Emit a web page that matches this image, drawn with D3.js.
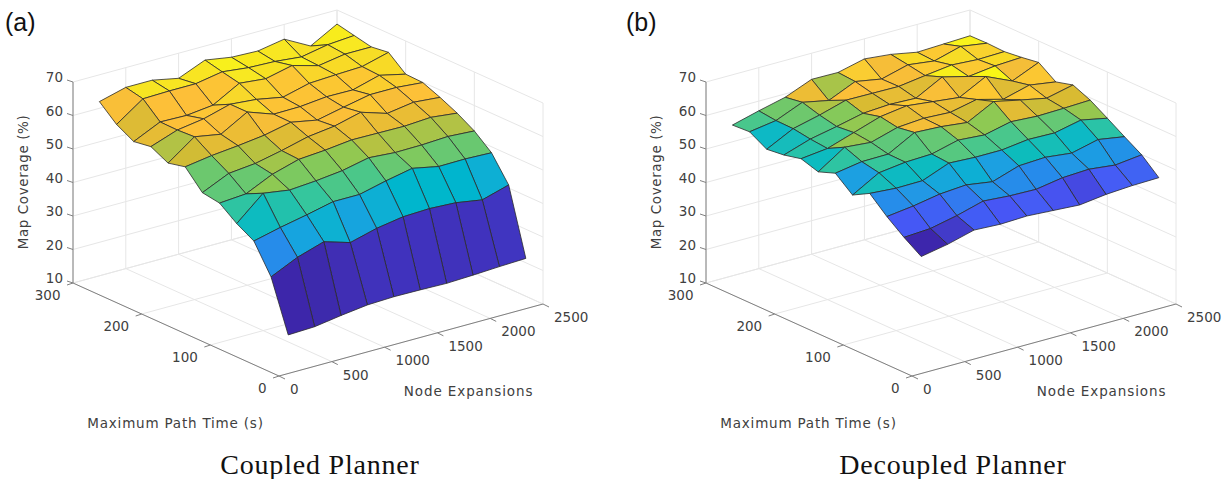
<!DOCTYPE html>
<html><head><meta charset="utf-8">
<script src="https://cdn.jsdelivr.net/npm/d3@7"></script>
<style>html,body{margin:0;padding:0;background:#fff}svg{display:block}</style>
</head><body><svg id="c" width="1229" height="479"></svg>
<script>
const nodeExpansions=[250,500,750,1000,1250,1500,1750,2000,2250,2500];
const pathTimes=[25,50,75,100,125,150,175,200,225,250,275,300];
const xTicks=[0,500,1000,1500,2000,2500];
const yTicks=[0,100,200,300];
const zTicks=[10,20,30,40,50,60,70];
// rows: path time 25..300; columns: node expansions 250..2500
const coupledCoverage=[
[17.8,18.1,19.3,20.3,20.6,20.5,20.3,20.6,21.0,21.3],
[32.8,36.5,39.0,36.6,38.7,40.0,40.3,39.9,38.6,40.9],
[41.2,43.1,44.7,46.5,46.5,48.4,50.0,48.4,48.5,48.2],
[44.1,51.0,49.8,50.4,51.3,53.0,52.4,52.5,52.9,52.4],
[47.9,48.5,52.2,54.5,55.1,56.0,55.9,55.8,56.3,55.4],
[48.7,52.3,53.1,54.8,56.8,57.8,59.8,57.3,58.5,57.8],
[54.1,55.3,56.1,57.1,58.8,57.3,59.0,60.6,60.6,59.9],
[52.9,58.6,57.2,61.7,58.9,59.0,59.8,59.7,61.9,60.1],
[55.5,58.3,59.5,61.7,61.0,59.5,61.5,61.9,62.2,64.3],
[54.7,58.4,58.2,59.1,63.5,62.7,64.5,62.3,63.6,63.6],
[57.5,63.0,63.2,63.2,64.6,63.7,63.4,62.6,64.1,64.7],
[62.0,64.1,64.1,62.5,65.8,64.5,64.2,65.6,61.4,65.8]];
const decoupledCoverage=[
[41.2,42.7,44.8,44.4,44.7,44.2,43.7,44.7,45.2,45.4],
[44.6,45.1,46.8,49.0,48.4,48.2,49.5,49.9,49.0,49.9],
[48.5,49.5,50.9,51.5,50.3,52.9,53.3,52.4,54.3,53.0],
[53.1,52.5,52.6,55.7,55.3,55.3,56.3,56.1,57.8,56.2],
[50.3,54.8,55.8,56.1,58.1,57.5,59.3,58.8,59.0,59.3],
[54.5,55.8,55.9,60.2,59.8,58.9,63.0,61.3,59.7,61.5],
[52.6,57.8,57.1,59.4,60.0,59.6,61.3,59.2,61.3,60.1],
[54.2,55.1,57.7,60.3,61.4,60.5,59.6,63.7,60.2,63.6],
[53.0,55.6,57.2,59.0,59.5,59.2,63.4,61.4,62.4,62.8],
[52.4,56.4,58.3,60.6,60.5,60.4,61.5,62.5,62.0,62.2],
[55.3,56.5,59.8,58.2,61.7,60.3,62.4,61.4,63.6,62.4],
[55.0,57.1,59.0,62.2,62.1,64.0,63.2,61.7,62.0,62.3]];
// colour lookup: coverage to colormap position, per panel
const coupledStops=[17.5,22,33,41,44,48,52,55,57,60,63,66];
const coupledPos=[0,.04,.22,.42,.48,.55,.62,.72,.78,.83,.92,1];
const decoupledStops=[41,43,45,48.5,50.5,52.5,54,56,58,59.5,60.5,62,64];
const decoupledPos=[0,.05,.12,.22,.3,.42,.46,.55,.62,.74,.79,.86,1];
const parulaPos=[0,.1,.2,.3,.4,.5,.6,.7,.8,.9,1];
const parulaColors=["#3e26a8","#4756f6","#2a88ec","#19a2e0","#00b7cc","#38c799","#8cc954","#d9bb33","#fdbf38","#f7de26","#f9fb15"];

const parula=d3.scaleLinear().domain(parulaPos).range(parulaColors).interpolate(d3.interpolateRgb);
const svg=d3.select("#c");
const FONT="'DejaVu Sans',sans-serif";

function panel(cfg){
  const g=svg.append("g").attr("transform",`translate(${cfg.dx},0)`);
  const xPx=d3.scaleLinear().domain([0,2500]).range([0,264]);
  const xPy=d3.scaleLinear().domain([0,2500]).range([0,-72]);
  const yPx=d3.scaleLinear().domain([0,300]).range([0,-206]);
  const yPy=d3.scaleLinear().domain([0,300]).range([0,-93]);
  const zPy=d3.scaleLinear().domain([10,70]).range([0,-201]);
  const ox=279, oy=376;
  const P=(x,y,z)=>[ox+xPx(x)+yPx(y), oy+xPy(x)+yPy(y)+zPy(z)];
  const seg=(a,b,col,w,parent)=>(parent||g).append("line")
    .attr("x1",a[0]).attr("y1",a[1]).attr("x2",b[0]).attr("y2",b[1])
    .attr("stroke",col).attr("stroke-width",w);
  const GRID="#e6e6e6", AX="#808080";
  xTicks.forEach(x=>{
    seg(P(x,0,10),P(x,300,10),GRID,1);
    seg(P(x,300,10),P(x,300,70),GRID,1);
  });
  yTicks.forEach(y=>{
    seg(P(0,y,10),P(2500,y,10),GRID,1);
    seg(P(2500,y,10),P(2500,y,70),GRID,1);
  });
  zTicks.forEach(z=>{
    seg(P(0,300,z),P(2500,300,z),GRID,1);
    seg(P(2500,300,z),P(2500,0,z),GRID,1);
  });
  seg(P(0,0,10),P(2500,0,10),AX,1);
  seg(P(0,0,10),P(0,300,10),AX,1);
  seg(P(0,300,10),P(0,300,70),AX,1);
  const text=(x,y,s,anchor,size,extra)=>{
    const t=g.append("text").attr("x",x).attr("y",y).text(s)
      .attr("text-anchor",anchor).attr("font-family",FONT).attr("font-size",size)
      .attr("fill","#404040").attr("dominant-baseline","middle");
    if(extra)extra(t);return t;
  };
  xTicks.forEach(x=>{
    const p=P(x,0,10);
    seg(p,[p[0]+6,p[1]+3],AX,1);
    text(p[0]+11,p[1]+14,d3.format("d")(x),"start",13.5);
  });
  yTicks.forEach(y=>{
    const p=P(0,y,10);
    seg(p,[p[0]-6,p[1]+2],AX,1);
    text(p[0]-12.5,p[1]+12.5,d3.format("d")(y),"end",13.5);
  });
  zTicks.forEach(z=>{
    const p=P(0,300,z);
    seg(p,[p[0]-6,p[1]-2],AX,1);
    text(p[0]-10,p[1]-4,d3.format("d")(z),"end",13.5);
  });
  text(468.6,391.7,"Node Expansions","middle",13.5,t=>t.attr("letter-spacing",0.9));
  text(175.5,424,"Maximum Path Time (s)","middle",13.5,t=>t.attr("letter-spacing",0.8));
  text(24,182,"Map Coverage (%)","middle",13.5,t=>t.attr("transform","rotate(-90 24 182)").attr("letter-spacing",0.6));

  const t=d3.scaleLinear().domain(cfg.stops).range(cfg.pos).clamp(true);
  const s=g.append("g").attr("filter","url(#soft)");
  const line=d3.line();
  for(let j=pathTimes.length-2;j>=0;j--){
    for(let i=nodeExpansions.length-2;i>=0;i--){
      const c=[[i,j],[i+1,j],[i+1,j+1],[i,j+1]].map(([a,b])=>P(nodeExpansions[a],pathTimes[b],cfg.z[b][a]));
      s.append("path").attr("d",line(c)+"Z")
        .attr("fill",parula(t(cfg.z[j][i])))
        .attr("stroke","#2b2b2b").attr("stroke-width",0.8).attr("stroke-linejoin","round");
    }
  }
  g.append("text").attr("x",cfg.letterX).attr("y",31).text(cfg.letter)
    .attr("font-family","'Liberation Sans',sans-serif").attr("font-size",25).attr("fill","#111");
  g.append("text").attr("x",cfg.titleX).attr("y",474).text(cfg.title)
    .attr("text-anchor","middle").attr("font-family","'Liberation Serif',serif")
    .attr("font-size",28).attr("letter-spacing",0.8).attr("fill","#111");
}
const defs=svg.append("defs");
defs.append("filter").attr("id","soft").append("feGaussianBlur").attr("stdDeviation",0.35);
panel({dx:0,letter:"(a)",letterX:5,title:"Coupled Planner",titleX:320,z:coupledCoverage,stops:coupledStops,pos:coupledPos});
panel({dx:633,letter:"(b)",letterX:-7,title:"Decoupled Planner",titleX:320,z:decoupledCoverage,stops:decoupledStops,pos:decoupledPos});
</script></body></html>
